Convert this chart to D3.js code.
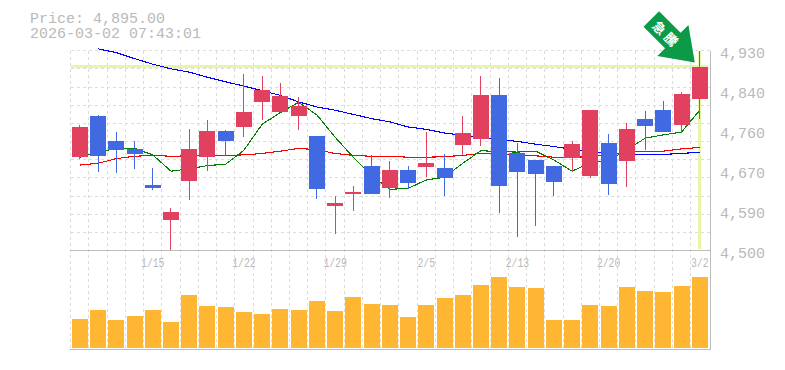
<!DOCTYPE html>
<html><head><meta charset="utf-8">
<script src="https://cdn.jsdelivr.net/npm/d3@7"></script>
<style>
html,body{margin:0;padding:0;background:#fff}
svg{display:block}
text{font-family:"Liberation Mono",monospace;fill:#b9b9b9}
</style></head><body>
<svg id="c" width="785" height="370"></svg>
<script>
const open_ =[4702,4790,4736,4719,4641,4566,4650,4701,4757,4766,4820,4798,4790,4747,4596,4622,4682,4635,4674,4680,4678,4727,4740,4835,4710,4695,4682,4699,4661,4732,4693,4783,4803,4770,4826];
const high  =[4770,4792,4755,4736,4678,4592,4762,4781,4760,4880,4876,4861,4830,4747,4618,4639,4706,4693,4682,4755,4708,4790,4876,4871,4732,4695,4682,4736,4803,4751,4775,4800,4822,4841,4930];
const low   =[4697,4669,4667,4676,4631,4502,4609,4671,4704,4745,4780,4798,4760,4611,4536,4585,4622,4613,4633,4658,4618,4706,4725,4581,4529,4553,4618,4669,4656,4620,4637,4717,4755,4753,4783];
const close_=[4766,4704,4717,4708,4635,4583,4719,4757,4736,4798,4846,4833,4811,4633,4603,4626,4622,4674,4646,4689,4656,4753,4835,4639,4669,4665,4648,4729,4803,4643,4762,4768,4755,4837,4895];
const maLong=[null,4934,4926,4913,4901,4891,4884,4873,4863,4854,4844,4834,4820,4809,4802,4793,4784,4777,4766,4761,4753,4748,4743,4739,4735,4729,4724,4718,4713,4710,4708,4707,4707,4709,4712];
const maMid =[4684,4688,4698,4703,4705,4703,4704,4705,4705,4706,4709,4714,4720,4717,4709,4705,4703,4703,4701,4701,4702,4705,4709,4708,4706,4704,4701,4701,4702,4706,4712,4713,4714,4719,4722];
const maShort=[4701,4712,4720,4720,4706,4671,4676,4683,4686,4716,4772,4797,4819,4792,4744,4701,4661,4632,4634,4652,4658,4688,4715,4713,4712,4714,4695,4671,4689,4695,4716,4742,4749,4755,4802];
const volume=[29,38,28,32,38,26,53,42,41,36,34,39,38,47,37,51,44,43,31,43,50,53,63,71,61,60,28,28,43,42,61,57,56,62,71];
const priceTicks=[4930,4840,4760,4670,4590,4500];
const dateLabels=[[4,"1/15"],[9,"1/22"],[14,"1/29"],[19,"2/5"],[24,"2/13"],[29,"2/20"],[34,"3/2"]];
const currentPrice=4895;
const headerLines=["Price: 4,895.00","2026-03-02 07:43:01"];
const badge="急騰";

const svg=d3.select("#c");
const plotL=70.7,plotR=708.9,plotT=50.7,plotB=250.7,volBase=348,volTop=277,frameBottom=350;
const idx=d3.range(open_.length);
const x=d3.scaleBand().domain(idx).range([plotL,plotR]);
const cx=i=>x(i)+x.bandwidth()/2;
const y=d3.scaleLinear().domain([4500,4930]).range([plotB,plotT]);
const v=d3.scaleLinear().domain([0,71]).range([volBase,volTop]);
const crisp=g=>g.attr("shape-rendering","crispEdges");
const gridC="#dcdcdc";

// grid
const grid=svg.append("g").call(crisp).attr("stroke",gridC).attr("stroke-dasharray","3 3").attr("stroke-width",1);
grid.selectAll(".v").data(idx).join("line").attr("class","v").attr("x1",d=>x(d)).attr("x2",d=>x(d)).attr("y1",plotT).attr("y2",frameBottom);
const hs=d3.range(12).map(i=>plotT+(plotB-plotT)*i/11);
grid.selectAll(".h").data(hs).join("line").attr("class","h").attr("x1",plotL).attr("x2",710).attr("y1",d=>d).attr("y2",d=>d);

// frame
const frame=svg.append("g").call(crisp).attr("stroke","#bdbdbd").attr("stroke-width",1);
frame.append("line").attr("x1",70).attr("x2",711).attr("y1",plotB).attr("y2",plotB);
frame.append("line").attr("x1",70).attr("x2",711).attr("y1",frameBottom-.5).attr("y2",frameBottom-.5);
frame.append("line").attr("x1",710.5).attr("x2",710.5).attr("y1",plotT).attr("y2",frameBottom);

// current price highlight
const hl=svg.append("g").call(crisp).attr("stroke","#e6f5a6").attr("stroke-width",3);
hl.append("line").attr("x1",plotL).attr("x2",cx(34)+8).attr("y1",y(currentPrice)-.4).attr("y2",y(currentPrice)-.4);
hl.append("line").attr("x1",cx(34)).attr("x2",cx(34)).attr("y1",plotT).attr("y2",248.7);

// volume
svg.append("g").call(crisp).attr("fill","#ffb733").selectAll("rect").data(volume).join("rect")
  .attr("x",(d,i)=>cx(i)-8).attr("width",16).attr("y",d=>v(d)).attr("height",d=>volBase-v(d));

// x labels
svg.append("g").selectAll("text").data(dateLabels).join("text")
  .attr("x",d=>cx(d[0])).attr("y",266.5).attr("text-anchor","middle").attr("font-size",13)
  .attr("textLength",d=>d[1].length*5.85).attr("lengthAdjust","spacingAndGlyphs").text(d=>d[1]);

// moving averages
const line=d3.line().defined(d=>d!=null).x((d,i)=>cx(i)).y(d=>y(d));
[[maLong,"#0000ff"],[maMid,"#ff0000"],[maShort,"#008000"]].forEach(([s,c])=>{
  svg.append("path").attr("d",line(s)).attr("fill","none").attr("stroke",c).attr("stroke-width",1.1).attr("shape-rendering","crispEdges");
});

// candles
const up="#e2405f",down="#4169e1";
const candle=svg.append("g").call(crisp).selectAll("g").data(idx).join("g");
candle.append("line").attr("x1",cx).attr("x2",cx).attr("y1",i=>y(high[i])).attr("y2",i=>y(low[i]))
  .attr("stroke",i=>close_[i]>=open_[i]?up:down).attr("stroke-width",1);
candle.append("rect").attr("x",i=>cx(i)-8).attr("width",16)
  .attr("y",i=>y(Math.max(open_[i],close_[i])))
  .attr("height",i=>Math.abs(y(open_[i])-y(close_[i])))
  .attr("fill",i=>close_[i]>=open_[i]?up:down);

// arrow badge
const tipX=cx(34)-5, tipY=y(currentPrice)-4.5;
const arrow=svg.append("g").attr("transform",`translate(${tipX},${tipY}) rotate(45)`);
const L=61.5,hw=22,sw=11,hl2=31;
arrow.append("path").attr("fill","#0a9a48")
  .attr("d",d3.line()([[0,0],[-hl2,-hw],[-hl2,-sw],[-L,-sw],[-L,sw],[-hl2,sw],[-hl2,hw]])+"Z");
svg.append("text").attr("transform",`translate(${tipX-28},${tipY-28}) rotate(45)`)
  .attr("text-anchor","middle").attr("dominant-baseline","central")
  .style("fill","#fff").style("font-family","'Noto Sans CJK JP'").style("font-weight",700).attr("font-size",13).attr("letter-spacing",3.5).text(badge);

// header and price labels
svg.append("g").selectAll("text").data(headerLines).join("text")
  .attr("x",30).attr("y",(d,i)=>23+i*15).attr("font-size",15).text(d=>d);
svg.append("g").selectAll("text").data(priceTicks).join("text")
  .attr("x",720).attr("y",(d,i)=>58+i*40).attr("font-size",15).text(d=>d3.format(",")(d));
</script></body></html>
